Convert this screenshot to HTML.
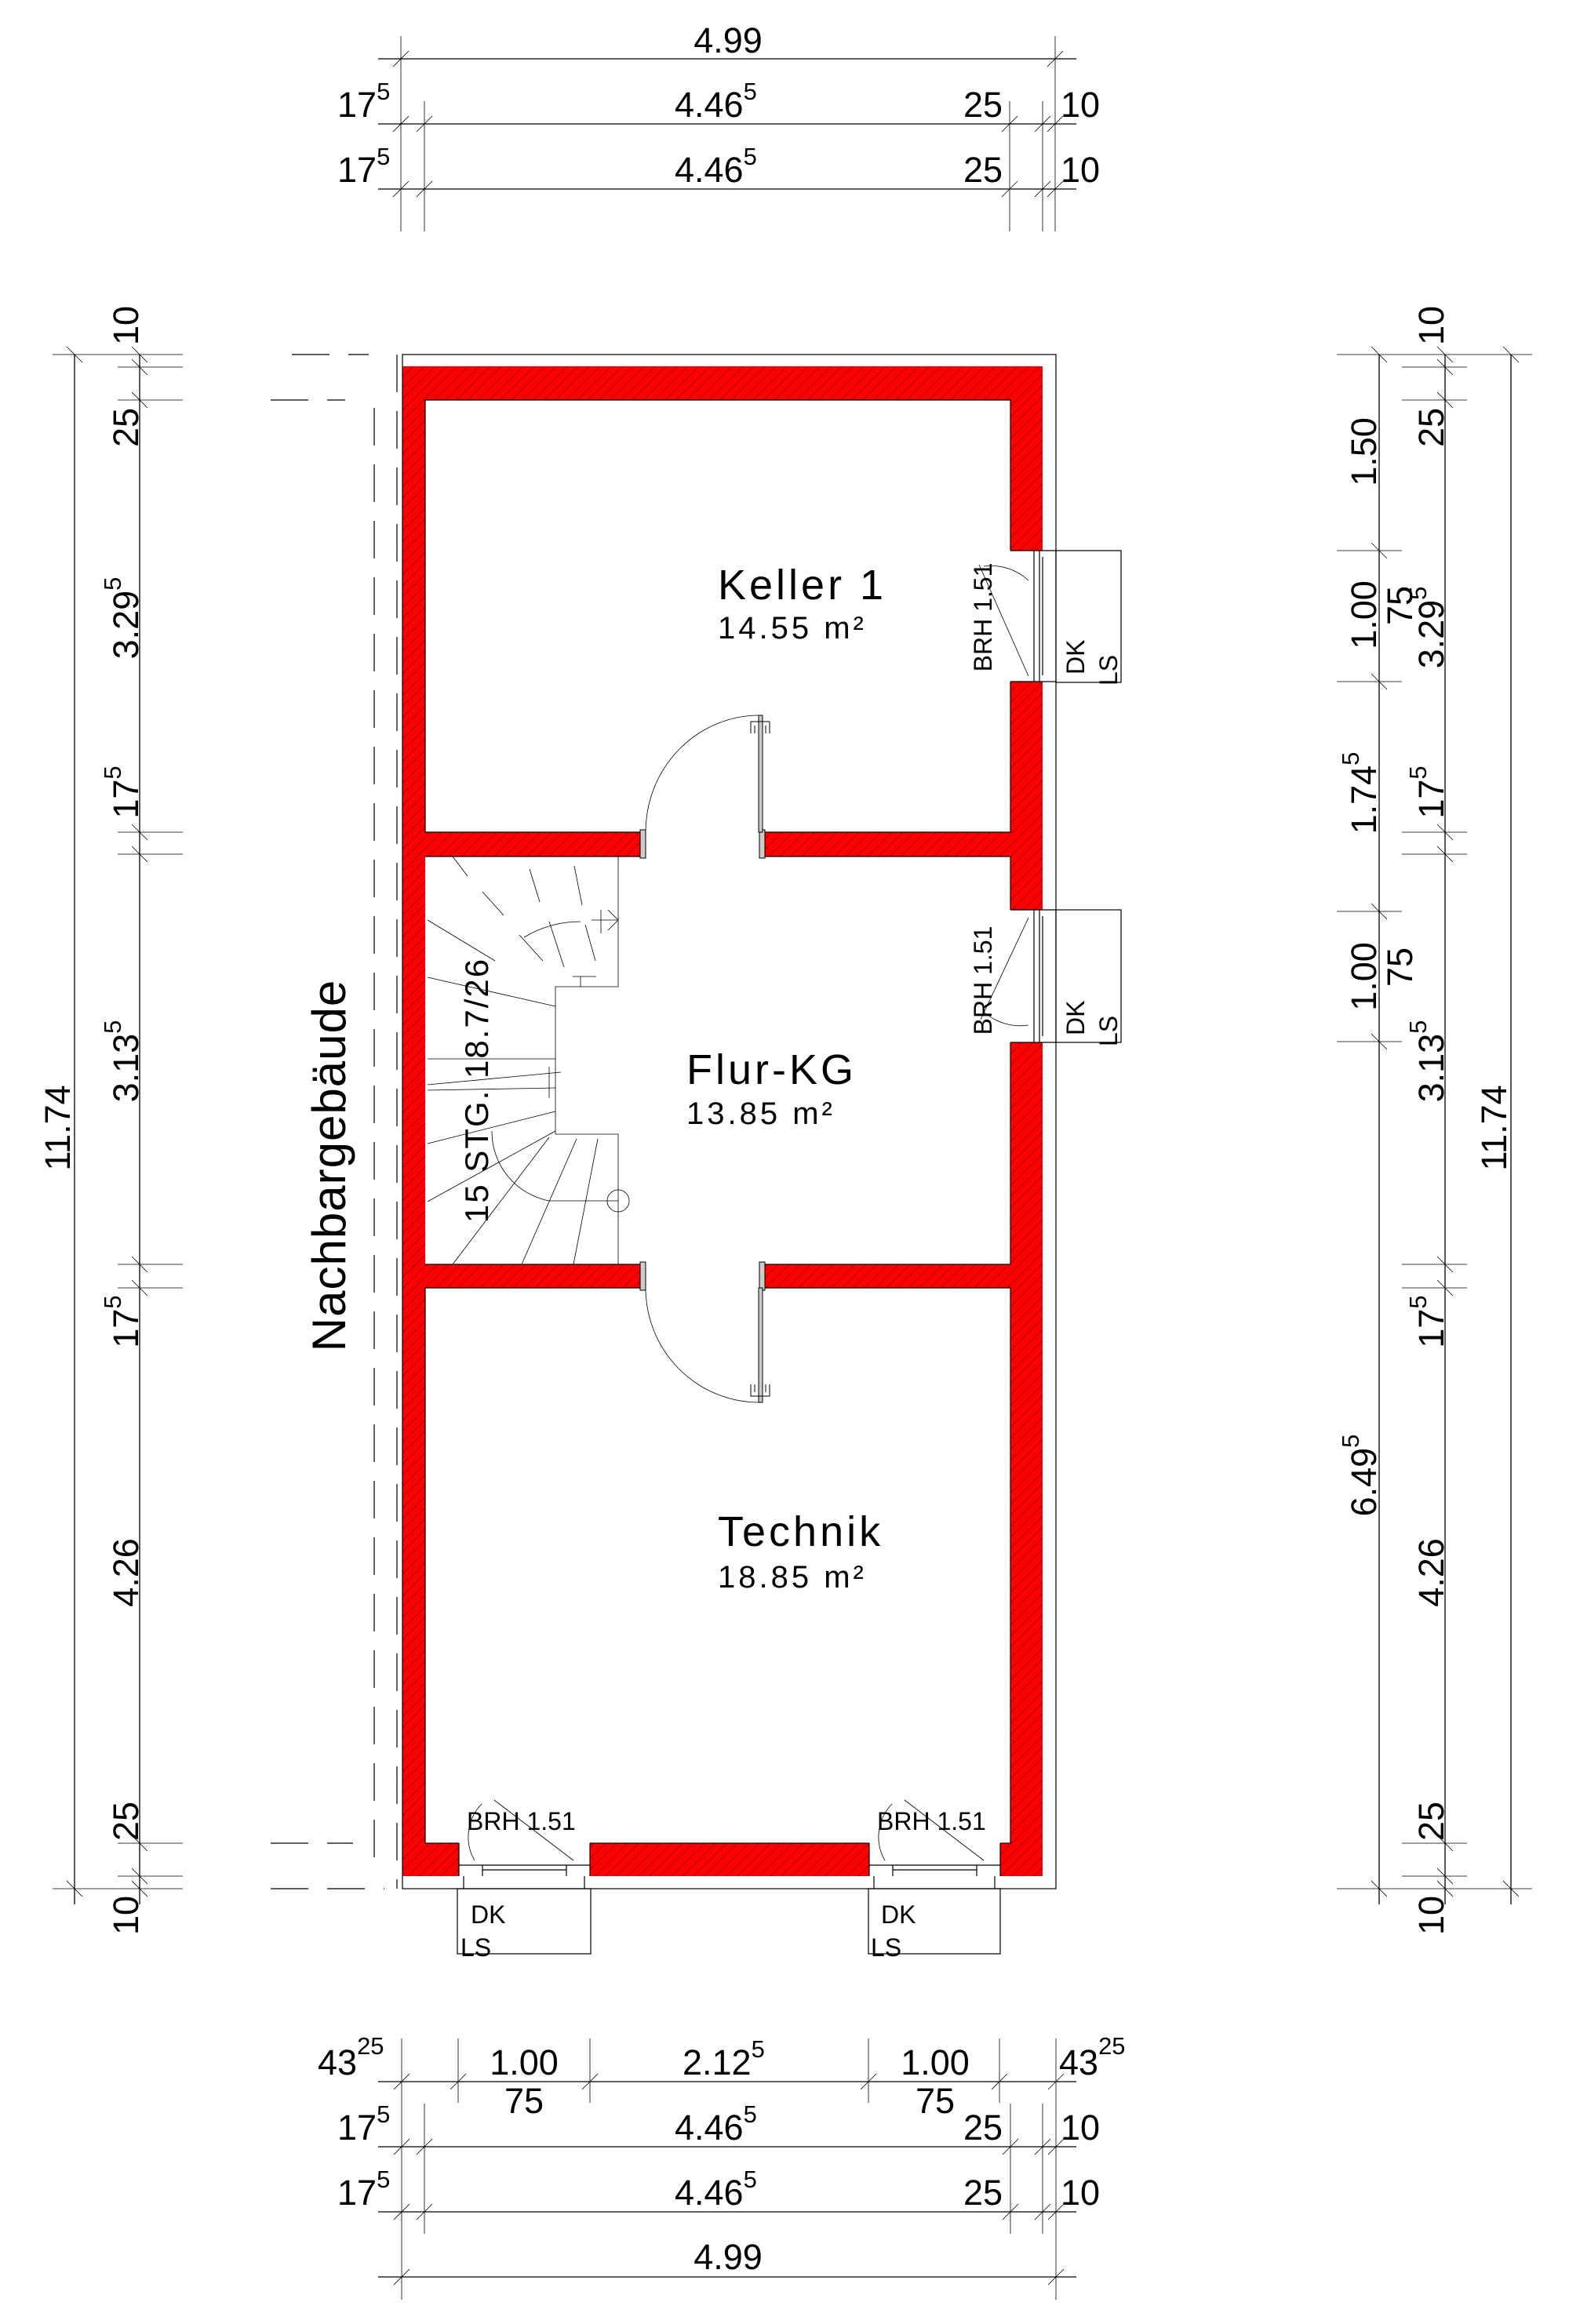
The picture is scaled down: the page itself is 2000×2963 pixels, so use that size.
<!DOCTYPE html>
<html><head><meta charset="utf-8"><style>html,body{margin:0;padding:0;background:#fff}svg{display:block}</style></head><body>
<svg width="2000" height="2963" viewBox="0 0 2000 2963" xmlns="http://www.w3.org/2000/svg" font-family="Liberation Sans, Arial, sans-serif">
<defs>
<pattern id="h" patternUnits="userSpaceOnUse" width="14" height="14">
<rect width="14" height="14" fill="#ff0000"/>
<path d="M0 14 L14 0 M-4 4 L4 -4 M10 18 L18 10" stroke="#a00000" stroke-width="1"/>
</pattern>
</defs>
<g fill="url(#h)">
<rect x="513" y="467" width="816" height="43"/>
<rect x="513" y="467" width="29" height="1925"/>
<rect x="1288" y="467" width="41" height="235"/>
<rect x="1288" y="869" width="41" height="291"/>
<rect x="1288" y="1329" width="41" height="1063"/>
<rect x="513" y="2350" width="72" height="42"/>
<rect x="752" y="2350" width="356" height="42"/>
<rect x="1275" y="2350" width="54" height="42"/>
<rect x="542" y="1061" width="281" height="31"/>
<rect x="968" y="1061" width="320" height="31"/>
<rect x="542" y="1612" width="281" height="30"/>
<rect x="968" y="1612" width="320" height="30"/>
</g>
<g fill="none" stroke="#000" stroke-width="1.2">
<rect x="513" y="452" width="833" height="1956"/>
<path d="M542 510 H1288 V702 M1288 869 V1061 M968 1061 H1288 M968 1092 H1288 V1160 M1288 1329 V1612 M968 1612 H1288 M968 1642 H1288 V2350 H1275 M1108 2350 H752 M585 2350 H542 V1642 H823 M542 1612 H823 M542 1092 H823 M542 1061 H823 M542 1061 V510"/>
<path d="M1288 702 H1346 M1288 869 H1346 M1318 702 V869 M1325 702 V869 M1329 710 V861 M1288 1160 H1346 M1288 1329 H1346 M1318 1160 V1329 M1325 1160 V1329 M1329 1168 V1321"/>
<rect x="1346" y="702" width="83" height="168"/>
<rect x="1346" y="1160" width="83" height="169"/>
<path d="M585 2350 V2392 M752 2350 V2392 M585 2378 H752 M615 2378 V2392 M722 2378 V2392 M615 2384 H722 M1108 2350 V2392 M1275 2350 V2392 M1108 2378 H1275 M1138 2378 V2392 M1245 2378 V2392 M1138 2384 H1245"/>
<rect x="583" y="2408" width="170" height="83"/>
<rect x="1107" y="2408" width="168" height="83"/>
<path d="M591 2392 V2408 M745 2392 V2408 M1114 2392 V2408 M1268 2392 V2408"/>
</g>
<g fill="none" stroke="#000" stroke-width="0.8">
<path d="M1311 862 L1248 720 M1311 740 A70 70 0 0 0 1254 722"/>
<path d="M1311 1170 L1250 1300 M1311 1307 A70 70 0 0 1 1254 1290"/>
<path d="M605 2372 A60 60 0 0 1 614 2300 M731 2372 L630 2295"/>
<path d="M1128 2372 A60 60 0 0 1 1137 2300 M1254 2372 L1153 2295"/>
<path d="M823 1061 A145 149 0 0 1 968 912"/>
<path d="M823 1642 A145 146 0 0 0 968 1788"/>
<path d="M577 1092 L596 1117 M615 1137 L642 1167 M675 1108 L688 1150 M732 1104 L742 1154 M545 1173 L631 1225 M545 1246 L708 1283 M545 1350 L708 1350 M545 1383 L715 1367 M545 1390 L708 1387 M545 1458 L708 1417 M545 1532 L708 1442 M577 1612 L700 1450 M665 1612 L735 1452 M731 1612 L762 1452 M700 1175 L719 1233 M746 1179 L759 1225 M662 1192 L692 1225 M754 1173 L788 1173 M766 1160 L766 1190 M775 1160 L788 1173 L775 1186 M730 1245 L760 1245 M740 1245 L740 1258"/>
<path d="M788 1092 V1258 H708 V1446 H788 V1612 M700 1360 V1400 M627 1442 A90 90 0 0 0 700 1531 H788"/>
<path d="M668 1195 A140 140 0 0 1 740 1175" />
<circle cx="788" cy="1531" r="14"/>
</g>
<g fill="#ccc" stroke="#000" stroke-width="1">
<rect x="816" y="1058" width="7" height="36"/><rect x="968" y="1058" width="7" height="36"/>
<rect x="816" y="1609" width="7" height="36"/><rect x="968" y="1609" width="7" height="36"/>
<rect x="967" y="912" width="5" height="149"/>
<rect x="967" y="1642" width="5" height="146"/>
</g>
<g fill="none" stroke="#000" stroke-width="1">
<path d="M957 935 V920 H981 V935 M962 935 V925 M976 935 V925"/>
<path d="M957 1765 V1780 H981 V1765 M962 1765 V1775 M976 1765 V1775"/>
</g>
<g fill="none" stroke="#000" stroke-width="1.2" stroke-dasharray="48,24">
<path d="M506 452 V2408"/>
<path d="M477 520 V2380"/>
<path d="M372 452 H470 M345 510 H440 M345 2350 H450 M345 2408 H490"/>
</g>
<g fill="none" stroke="#000" stroke-width="1.3">
<path d="M482 75 H1372 M482 158 H1372 M482 241 H1372"/>
<path d="M482 2654 H1372 M482 2737 H1372 M482 2820 H1372 M482 2903 H1372"/>
<path d="M95 452 V2428 M178 452 V2428"/>
<path d="M1758 452 V2428 M1842 452 V2428 M1926 452 V2428"/>
</g>
<g fill="none" stroke="#000" stroke-width="0.8">
<path d="M511 46 V295 M541 129 V295 M1287 129 V295 M1329 129 V295 M1345 46 V295"/>
<path d="M512 2599 V2932 M584 2599 V2681 M752 2599 V2681 M1107 2599 V2681 M1274 2599 V2681 M1346 2599 V2932 M541 2682 V2848 M1288 2682 V2848 M1329 2682 V2848"/>
<path d="M67 452 H233 M150 468 H233 M150 510 H233 M150 1061 H233 M150 1089 H233 M150 1612 H233 M150 1642 H233 M150 2350 H233 M150 2392 H233 M67 2408 H233"/>
<path d="M1704 452 H1953 M1787 468 H1870 M1787 510 H1870 M1704 702 H1787 M1704 869 H1787 M1787 1061 H1870 M1787 1089 H1870 M1704 1162 H1787 M1704 1328 H1787 M1787 1612 H1870 M1787 1642 H1870 M1787 2350 H1870 M1787 2392 H1870 M1704 2408 H1953"/>
</g>
<g fill="none" stroke="#000" stroke-width="0.8">
<path d="M501 85 l20 -20 M1335 85 l20 -20 M501 168 l20 -20 M531 168 l20 -20 M1277 168 l20 -20 M1319 168 l20 -20 M1335 168 l20 -20 M501 251 l20 -20 M531 251 l20 -20 M1277 251 l20 -20 M1319 251 l20 -20 M1335 251 l20 -20"/>
<path d="M502 2664 l20 -20 M574 2664 l20 -20 M742 2664 l20 -20 M1097 2664 l20 -20 M1264 2664 l20 -20 M1336 2664 l20 -20 M502 2747 l20 -20 M531 2747 l20 -20 M1278 2747 l20 -20 M1319 2747 l20 -20 M1336 2747 l20 -20 M502 2830 l20 -20 M531 2830 l20 -20 M1278 2830 l20 -20 M1319 2830 l20 -20 M1336 2830 l20 -20 M502 2913 l20 -20 M1336 2913 l20 -20"/>
<path d="M85 442 l20 20 M168 442 l20 20 M168 458 l20 20 M168 500 l20 20 M168 1051 l20 20 M168 1079 l20 20 M168 1602 l20 20 M168 1632 l20 20 M168 2340 l20 20 M168 2382 l20 20 M85 2398 l20 20 M168 2398 l20 20"/>
<path d="M1748 442 l20 20 M1832 442 l20 20 M1916 442 l20 20 M1832 458 l20 20 M1832 500 l20 20 M1748 692 l20 20 M1748 859 l20 20 M1832 1051 l20 20 M1832 1079 l20 20 M1748 1152 l20 20 M1748 1318 l20 20 M1832 1602 l20 20 M1832 1632 l20 20 M1832 2340 l20 20 M1832 2382 l20 20 M1748 2398 l20 20 M1832 2398 l20 20 M1916 2398 l20 20"/>
</g>
<g font-size="45" fill="#000">
<text x="928" y="67" text-anchor="middle">4.99</text>
<text x="430" y="149">17<tspan font-size="31" dy="-22">5</tspan></text>
<text x="860" y="149">4.46<tspan font-size="31" dy="-22">5</tspan></text>
<text x="1228" y="149">25</text>
<text x="1352" y="149">10</text>
<text x="430" y="232">17<tspan font-size="31" dy="-22">5</tspan></text>
<text x="860" y="232">4.46<tspan font-size="31" dy="-22">5</tspan></text>
<text x="1228" y="232">25</text>
<text x="1352" y="232">10</text>
<text x="405" y="2645">43<tspan font-size="31" dy="-26">25</tspan></text>
<text x="668" y="2645" text-anchor="middle">1.00</text>
<text x="668" y="2694" text-anchor="middle">75</text>
<text x="870" y="2645">2.12<tspan font-size="31" dy="-22">5</tspan></text>
<text x="1192" y="2645" text-anchor="middle">1.00</text>
<text x="1192" y="2694" text-anchor="middle">75</text>
<text x="1350" y="2645">43<tspan font-size="31" dy="-26">25</tspan></text>
<text x="430" y="2728">17<tspan font-size="31" dy="-22">5</tspan></text>
<text x="860" y="2728">4.46<tspan font-size="31" dy="-22">5</tspan></text>
<text x="1228" y="2728">25</text>
<text x="1352" y="2728">10</text>
<text x="430" y="2811">17<tspan font-size="31" dy="-22">5</tspan></text>
<text x="860" y="2811">4.46<tspan font-size="31" dy="-22">5</tspan></text>
<text x="1228" y="2811">25</text>
<text x="1352" y="2811">10</text>
<text x="928" y="2893" text-anchor="middle">4.99</text>
</g>
<g font-size="45" fill="#000" text-anchor="middle">
<text transform="translate(176,415) rotate(-90)">10</text>
<text transform="translate(176,545) rotate(-90)">25</text>
<text transform="translate(176,788) rotate(-90)">3.29<tspan font-size="31" dy="-22">5</tspan></text>
<text transform="translate(176,1010) rotate(-90)">17<tspan font-size="31" dy="-22">5</tspan></text>
<text transform="translate(176,1353) rotate(-90)">3.13<tspan font-size="31" dy="-22">5</tspan></text>
<text transform="translate(89,1438) rotate(-90)">11.74</text>
<text transform="translate(176,1685) rotate(-90)">17<tspan font-size="31" dy="-22">5</tspan></text>
<text transform="translate(176,2005) rotate(-90)">4.26</text>
<text transform="translate(176,2322) rotate(-90)">25</text>
<text transform="translate(176,2442) rotate(-90)">10</text>
<text transform="translate(1840,415) rotate(-90)">10</text>
<text transform="translate(1840,545) rotate(-90)">25</text>
<text transform="translate(1754,576) rotate(-90)">1.50</text>
<text transform="translate(1754,784) rotate(-90)">1.00</text>
<text transform="translate(1800,772) rotate(-90)">75</text>
<text transform="translate(1840,800) rotate(-90)">3.29<tspan font-size="31" dy="-22">5</tspan></text>
<text transform="translate(1754,1011) rotate(-90)">1.74<tspan font-size="31" dy="-22">5</tspan></text>
<text transform="translate(1840,1010) rotate(-90)">17<tspan font-size="31" dy="-22">5</tspan></text>
<text transform="translate(1754,1245) rotate(-90)">1.00</text>
<text transform="translate(1800,1233) rotate(-90)">75</text>
<text transform="translate(1840,1353) rotate(-90)">3.13<tspan font-size="31" dy="-22">5</tspan></text>
<text transform="translate(1920,1438) rotate(-90)">11.74</text>
<text transform="translate(1840,1685) rotate(-90)">17<tspan font-size="31" dy="-22">5</tspan></text>
<text transform="translate(1754,1881) rotate(-90)">6.49<tspan font-size="31" dy="-22">5</tspan></text>
<text transform="translate(1840,2005) rotate(-90)">4.26</text>
<text transform="translate(1840,2322) rotate(-90)">25</text>
<text transform="translate(1840,2442) rotate(-90)">10</text>
</g>
<text transform="translate(440,1486) rotate(-90)" font-size="60" text-anchor="middle" fill="#000" letter-spacing="1">Nachbargebäude</text>
<g fill="#000">
<text x="915" y="764" font-size="54" letter-spacing="4">Keller 1</text>
<text x="915" y="814" font-size="40" letter-spacing="4">14.55 m²</text>
<text x="875" y="1382" font-size="54" letter-spacing="4">Flur-KG</text>
<text x="875" y="1433" font-size="40" letter-spacing="4">13.85 m²</text>
<text x="915" y="1971" font-size="54" letter-spacing="4">Technik</text>
<text x="915" y="2024" font-size="40" letter-spacing="4">18.85 m²</text>
</g>
<g fill="#000" font-size="32">
<text transform="translate(1264,787) rotate(-90)" text-anchor="middle">BRH 1.51</text>
<text transform="translate(1264,1250) rotate(-90)" text-anchor="middle">BRH 1.51</text>
<text transform="translate(1382,860) rotate(-90)">DK</text>
<text transform="translate(1424,874) rotate(-90)">LS</text>
<text transform="translate(1382,1320) rotate(-90)">DK</text>
<text transform="translate(1424,1334) rotate(-90)">LS</text>
<text x="595" y="2333">BRH 1.51</text>
<text x="1118" y="2333">BRH 1.51</text>
<text x="600" y="2452">DK</text>
<text x="587" y="2494">LS</text>
<text x="1123" y="2452">DK</text>
<text x="1110" y="2494">LS</text>
</g>
<text transform="translate(622,1390) rotate(-90)" font-size="42" text-anchor="middle" fill="#000" letter-spacing="2">15 STG. 18.7/26</text>
</svg>
</body></html>
